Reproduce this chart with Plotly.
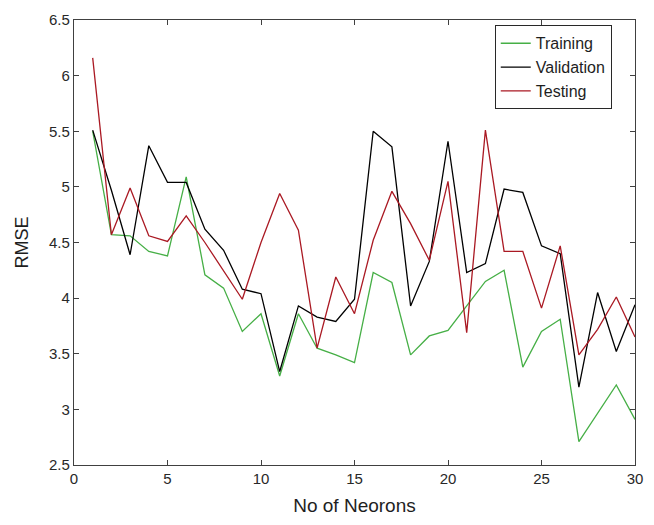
import plotly.graph_objects as go

x = list(range(1, 31))
training = [5.50, 4.57, 4.56, 4.42, 4.38, 5.09, 4.21, 4.09, 3.70, 3.86,
            3.30, 3.86, 3.55, 3.49, 3.42, 4.23, 4.14, 3.49, 3.66, 3.71,
            3.93, 4.15, 4.25, 3.38, 3.70, 3.81, 2.71, 2.97, 3.22, 2.91]
validation = [5.51, 4.97, 4.39, 5.37, 5.04, 5.04, 4.62, 4.43, 4.08, 4.04,
              3.34, 3.93, 3.83, 3.79, 3.99, 5.50, 5.36, 3.93, 4.33, 5.41,
              4.23, 4.31, 4.98, 4.95, 4.47, 4.40, 3.20, 4.05, 3.52, 3.94]
testing = [6.16, 4.57, 4.99, 4.56, 4.51, 4.74, 4.50, 4.24, 3.99, 4.50,
           4.94, 4.61, 3.55, 4.19, 3.86, 4.52, 4.96, 4.67, 4.34, 5.05,
           3.69, 5.51, 4.42, 4.42, 3.91, 4.47, 3.49, 3.72, 4.01, 3.65]

font = "Liberation Sans, Arial, sans-serif"

fig = go.Figure()
fig.add_trace(go.Scatter(x=x, y=training, mode="lines", name="Training",
                         line=dict(color="rgb(70,175,70)", width=1.3)))
fig.add_trace(go.Scatter(x=x, y=validation, mode="lines", name="Validation",
                         line=dict(color="black", width=1.3)))
fig.add_trace(go.Scatter(x=x, y=testing, mode="lines", name="Testing",
                         line=dict(color="rgb(170,25,35)", width=1.3)))

axis_common = dict(showgrid=False, zeroline=False, showline=True, mirror="allticks",
                   linecolor="rgb(64,64,64)", linewidth=1.2, ticks="inside",
                   ticklen=5, tickcolor="rgb(64,64,64)",
                   tickfont=dict(family=font, size=15, color="rgb(40,40,40)"))

fig.update_layout(
    width=654, height=525,
    margin=dict(l=74, r=11, t=13, b=60),
    paper_bgcolor="white", plot_bgcolor="white",
    font=dict(family=font),
    xaxis=dict(range=[0, 30], tickvals=[0, 5, 10, 15, 20, 25, 30],
               title=dict(text="No of Neorons", font=dict(family=font, size=19, color="rgb(30,30,30)"), standoff=12),
               **axis_common),
    yaxis=dict(range=[2.5, 6.5], tickvals=[2.5, 3, 3.5, 4, 4.5, 5, 5.5, 6, 6.5],
               ticktext=["2.5", "3", "3.5", "4", "4.5", "5", "5.5", "6", "6.5"],
               title=dict(text="RMSE", font=dict(family=font, size=18, color="rgb(30,30,30)"), standoff=15),
               **axis_common),
    legend=dict(x=0.75, y=0.988, xanchor="left", yanchor="top",
                bordercolor="rgb(40,40,40)", borderwidth=1, bgcolor="white",
                font=dict(family=font, size=16, color="rgb(30,30,30)"),
                tracegroupgap=0, itemwidth=30),
    showlegend=True,
)

fig.write_html("out.html")
